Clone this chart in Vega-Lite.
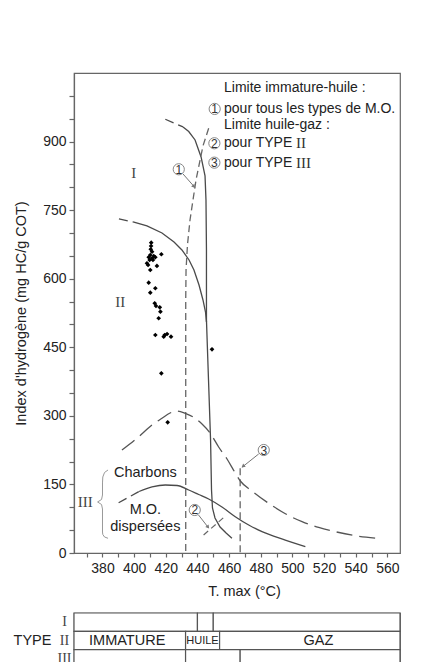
{
  "$schema": "https://vega.github.io/schema/vega-lite/v6.json",
  "background": "white",
  "padding": {"left": 12, "top": 72, "right": 0, "bottom": 0},
  "bounds": "flush",
  "spacing": 60,
  "config": {
    "font": "Liberation Sans",
    "view": {"stroke": "#666", "strokeWidth": 1.2},
    "axis": {
      "domainColor": "#666", "tickColor": "#666", "labelColor": "#222", "titleColor": "#222",
      "labelFont": "Liberation Sans", "titleFont": "Liberation Sans", "titleFontWeight": "normal",
      "labelFontSize": 14, "titleFontSize": 14.5, "grid": false, "domainWidth": 1.2, "tickWidth": 1.2
    }
  },
  "vconcat": [
    {
      "width": 326,
      "height": 480,
      "encoding": {
        "x": {
          "field": "t", "type": "quantitative",
          "scale": {"domain": [362, 568], "nice": false, "zero": false},
          "axis": {
            "title": "T. max (°C)", "values": [370, 380, 390, 400, 410, 420, 430, 440, 450, 460, 470, 480, 490, 500, 510, 520, 530, 540, 550, 560],
            "labelExpr": "datum.value % 20 === 0 ? datum.label : ''",
            "tickSize": 4, "labelPadding": 4, "titlePadding": 9, "titleX": 170, "labelFlush": false
          }
        },
        "y": {
          "field": "hi", "type": "quantitative",
          "scale": {"domain": [0, 1050], "nice": false},
          "axis": {
            "title": "Index d'hydrogène (mg HC/g COT)",
            "values": [0, 50, 100, 150, 200, 250, 300, 350, 400, 450, 500, 550, 600, 650, 700, 750, 800, 850, 900, 950, 1000],
            "labelExpr": "datum.value % 150 === 0 ? datum.label : ''",
            "tickSize": 5, "labelPadding": 3, "titlePadding": 14, "labelFlush": false
          }
        }
      },
      "layer": [
        {
          "data": {"values": [{"t": 419.7, "hi": 948.8}, {"t": 430.9, "hi": 932}]},
          "mark": {"type": "line", "color": "#4a4a4a", "strokeWidth": 1.3, "strokeDash": [9, 5]},
          "encoding": {"order": {"value": null}}
        },
        {
          "data": {"values": [
            {"t": 430.9, "hi": 932}, {"t": 434.5, "hi": 922}, {"t": 438.5, "hi": 903.5}, {"t": 442.3, "hi": 866.3},
            {"t": 444.8, "hi": 824.8}, {"t": 445.4, "hi": 772.3}, {"t": 445.7, "hi": 662.9}, {"t": 445.7, "hi": 509.7},
            {"t": 447, "hi": 378.5}, {"t": 448.3, "hi": 247.2}, {"t": 448.9, "hi": 137.8}, {"t": 449.5, "hi": 98.4},
            {"t": 451.1, "hi": 76.6}, {"t": 454.3, "hi": 56.9}, {"t": 458.1, "hi": 43.8}, {"t": 461.8, "hi": 32.2}
          ]},
          "mark": {"type": "line", "color": "#4a4a4a", "strokeWidth": 1.3},
          "encoding": {"order": {"value": null}}
        },
        {
          "data": {"values": [{"t": 390.4, "hi": 730.7}, {"t": 399.3, "hi": 724.1}]},
          "mark": {"type": "line", "color": "#4a4a4a", "strokeWidth": 1.3, "strokeDash": [9, 5]},
          "encoding": {"order": {"value": null}}
        },
        {
          "data": {"values": [
            {"t": 399.3, "hi": 724.1}, {"t": 408.1, "hi": 715.4}, {"t": 417.6, "hi": 700.1}, {"t": 425.2, "hi": 680.4},
            {"t": 430.2, "hi": 662.9}, {"t": 434.7, "hi": 641}, {"t": 437.8, "hi": 619.1}, {"t": 441, "hi": 586.3},
            {"t": 443.5, "hi": 553.5}, {"t": 445.1, "hi": 527.2}, {"t": 445.7, "hi": 505.4}
          ]},
          "mark": {"type": "line", "color": "#4a4a4a", "strokeWidth": 1.3},
          "encoding": {"order": {"value": null}}
        },
        {
          "data": {"values": [
            {"t": 447.1, "hi": 929.1}, {"t": 443.5, "hi": 890.4}, {"t": 441.3, "hi": 853.2}, {"t": 439.1, "hi": 816},
            {"t": 437.2, "hi": 772.3}, {"t": 435.3, "hi": 728.5}, {"t": 433.7, "hi": 673.8}, {"t": 432.8, "hi": 619.1},
            {"t": 432.6, "hi": 553.5}, {"t": 432.6, "hi": 0}
          ]},
          "mark": {"type": "line", "color": "#666", "strokeWidth": 1.3, "strokeDash": [7, 4]},
          "encoding": {"order": {"value": null}}
        },
        {
          "data": {"values": [{"t": 467, "hi": 185.3}, {"t": 467, "hi": 0}]},
          "mark": {"type": "line", "color": "#666", "strokeWidth": 1.3, "strokeDash": [7, 4]},
          "encoding": {"order": {"value": null}}
        },
        {
          "data": {"values": [{"t": 443.9, "hi": 39.4}, {"t": 457.9, "hi": 81.6}]},
          "mark": {"type": "line", "color": "#666", "strokeWidth": 1.2, "strokeDash": [6, 4]},
          "encoding": {"order": {"value": null}}
        },
        {
          "data": {"values": [
            {"t": 392.3, "hi": 225.3}, {"t": 402.9, "hi": 254.4}, {"t": 411.3, "hi": 280}, {"t": 417.6, "hi": 294.7},
            {"t": 422.7, "hi": 306.3}, {"t": 427.1, "hi": 310.6}, {"t": 432.3, "hi": 305.6}, {"t": 437.8, "hi": 296.4},
            {"t": 442.9, "hi": 282.2}, {"t": 448, "hi": 262.5}, {"t": 453.4, "hi": 231.9}, {"t": 458.7, "hi": 205.6},
            {"t": 463.9, "hi": 175}, {"t": 467.1, "hi": 157.5}, {"t": 474.5, "hi": 135.6}, {"t": 485, "hi": 108.7},
            {"t": 495.3, "hi": 86.4}, {"t": 506.1, "hi": 68.5}, {"t": 516.6, "hi": 55.8}, {"t": 527.1, "hi": 46.6},
            {"t": 540.8, "hi": 37.2}, {"t": 553.5, "hi": 32.2}
          ]},
          "mark": {"type": "line", "color": "#555", "strokeWidth": 1.3, "strokeDash": [16, 7], "interpolate": "monotone"},
          "encoding": {"order": {"value": null}}
        },
        {
          "data": {"values": [{"t": 390.2, "hi": 110}, {"t": 403.1, "hi": 134.5}]},
          "mark": {"type": "line", "color": "#4a4a4a", "strokeWidth": 1.3, "strokeDash": [9, 5]},
          "encoding": {"order": {"value": null}}
        },
        {
          "data": {"values": [
            {"t": 403.1, "hi": 134.5}, {"t": 411.3, "hi": 144.4}, {"t": 419.7, "hi": 148.8}, {"t": 427.1, "hi": 147.7},
            {"t": 434.5, "hi": 137.8}, {"t": 440.8, "hi": 128}, {"t": 447.1, "hi": 118.1}, {"t": 455.5, "hi": 100.6},
            {"t": 463.9, "hi": 79.4}, {"t": 472.4, "hi": 61.3}, {"t": 480.8, "hi": 46.6}, {"t": 495.5, "hi": 28.4},
            {"t": 508.2, "hi": 13.8}
          ]},
          "mark": {"type": "line", "color": "#4a4a4a", "strokeWidth": 1.3, "interpolate": "monotone"},
          "encoding": {"order": {"value": null}}
        },
        {
          "data": {"values": [
            {"t": 383.5, "hi": 181.6}, {"t": 381.3, "hi": 176.1}, {"t": 380.2, "hi": 166.3}, {"t": 380, "hi": 153.2},
            {"t": 380, "hi": 126.9}, {"t": 379.4, "hi": 117}, {"t": 376.9, "hi": 111.6}, {"t": 379.4, "hi": 106.1},
            {"t": 380, "hi": 96.3}, {"t": 380, "hi": 45.9}, {"t": 380.2, "hi": 40.5}, {"t": 381.3, "hi": 35},
            {"t": 383.5, "hi": 32.2}
          ]},
          "mark": {"type": "line", "color": "#999", "strokeWidth": 1},
          "encoding": {"order": {"value": null}}
        },
        {
          "data": {"values": [
            {"t": 410.8, "hi": 678.8}, {"t": 410.7, "hi": 671.6}, {"t": 410.5, "hi": 664.4}, {"t": 411.3, "hi": 659.2},
            {"t": 410.2, "hi": 651.9}, {"t": 412.4, "hi": 649.7}, {"t": 409.2, "hi": 646.9}, {"t": 411.3, "hi": 644.7},
            {"t": 413.4, "hi": 646.9}, {"t": 417.2, "hi": 653.5}, {"t": 409.8, "hi": 641}, {"t": 411.9, "hi": 641},
            {"t": 408.1, "hi": 633.8}, {"t": 408.8, "hi": 630}, {"t": 414.4, "hi": 627.9}, {"t": 410.2, "hi": 619.1},
            {"t": 409.2, "hi": 591.3}, {"t": 413.4, "hi": 579.1}, {"t": 410.2, "hi": 569.5}, {"t": 413, "hi": 546.3},
            {"t": 413.8, "hi": 540.4}, {"t": 416.2, "hi": 537.5}, {"t": 416.6, "hi": 527.9}, {"t": 415.5, "hi": 513.5},
            {"t": 413.4, "hi": 476.9}, {"t": 419.3, "hi": 476.9}, {"t": 420.8, "hi": 479.1}, {"t": 418.7, "hi": 473.2},
            {"t": 423.3, "hi": 473.2}, {"t": 417.2, "hi": 393.1}, {"t": 449.2, "hi": 445.6}, {"t": 421.2, "hi": 285.9}
          ]},
          "mark": {"type": "point", "shape": "diamond", "filled": true, "color": "#000", "size": 22, "opacity": 1}
        },
        {
          "data": {"values": [
            {"t": 430.9, "hi": 829.1, "t2": 438.3, "hi2": 800},
            {"t": 440.7, "hi": 83.1, "t2": 447.1, "hi2": 54.7},
            {"t": 478.7, "hi": 216.6, "t2": 468.2, "hi2": 187.7}
          ]},
          "mark": {"type": "rule", "color": "#777", "strokeWidth": 1},
          "encoding": {"x2": {"field": "t2"}, "y2": {"field": "hi2"}}
        },
        {
          "data": {"values": [{"t": 437.8, "hi": 801.5}]},
          "mark": {"type": "point", "shape": "triangle-up", "filled": true, "color": "#777", "size": 18, "angle": 139, "opacity": 1}
        },
        {
          "data": {"values": [{"t": 446.7, "hi": 56.5}]},
          "mark": {"type": "point", "shape": "triangle-up", "filled": true, "color": "#777", "size": 18, "angle": 142, "opacity": 1}
        },
        {
          "data": {"values": [{"t": 468.8, "hi": 189.5}]},
          "mark": {"type": "point", "shape": "triangle-up", "filled": true, "color": "#777", "size": 18, "angle": 231, "opacity": 1}
        },
        {
          "data": {"values": [
            {"t": 450.9, "hi": 971.4, "n": "1"}, {"t": 450.7, "hi": 896.3, "n": "2"}, {"t": 450.7, "hi": 853.9, "n": "3"},
            {"t": 428.2, "hi": 839.4, "n": "1"}, {"t": 438.3, "hi": 94.1, "n": "2"}, {"t": 481.9, "hi": 225.3, "n": "3"}
          ]},
          "layer": [
            {"mark": {"type": "point", "shape": "circle", "filled": true, "fill": "white", "stroke": "#888", "strokeWidth": 1, "size": 125, "opacity": 1}},
            {"mark": {"type": "text", "fontSize": 12, "color": "#333", "baseline": "middle", "align": "center", "dy": 0.5}, "encoding": {"text": {"field": "n"}}}
          ]
        },
        {
          "data": {"values": [
            {"t": 399.7, "hi": 832, "label": "I"}, {"t": 391.3, "hi": 549.8, "label": "II"}, {"t": 369.1, "hi": 112.2, "label": "III"}
          ]},
          "mark": {"type": "text", "font": "Liberation Serif", "fontSize": 15, "color": "#444", "baseline": "middle", "align": "center"},
          "encoding": {"text": {"field": "label"}}
        },
        {
          "data": {"values": [
            {"t": 502.3, "hi": 896.3, "label": "II"}, {"t": 502.3, "hi": 853.9, "label": "III"}
          ]},
          "mark": {"type": "text", "font": "Liberation Serif", "fontSize": 15, "color": "#333", "baseline": "middle", "align": "left"},
          "encoding": {"text": {"field": "label"}}
        },
        {
          "data": {"values": [
            {"t": 407.1, "hi": 174.5, "label": "Charbons"}, {"t": 407.1, "hi": 94, "label": "M.O."}, {"t": 407.1, "hi": 56.2, "label": "dispersées"}
          ]},
          "mark": {"type": "text", "fontSize": 14.5, "color": "#222", "baseline": "middle", "align": "center"},
          "encoding": {"text": {"field": "label"}}
        },
        {
          "data": {"values": [
            {"t": 456.8, "hi": 1016.6, "label": "Limite immature-huile :"},
            {"t": 456.8, "hi": 971.4, "label": "pour tous les types de M.O."},
            {"t": 456.8, "hi": 936.4, "label": "Limite huile-gaz :"},
            {"t": 456.8, "hi": 896.3, "label": "pour TYPE"},
            {"t": 456.8, "hi": 853.9, "label": "pour TYPE"}
          ]},
          "mark": {"type": "text", "fontSize": 14, "color": "#222", "baseline": "middle", "align": "left"},
          "encoding": {"text": {"field": "label"}}
        }
      ]
    },
    {
      "width": 326,
      "height": 55,
      "layer": [
        {
          "data": {"values": [
            {"row": "I", "t": 362, "t2": 440}, {"row": "I", "t": 440, "t2": 450}, {"row": "I", "t": 450, "t2": 568},
            {"row": "II", "t": 362, "t2": 432.5}, {"row": "II", "t": 432.5, "t2": 454}, {"row": "II", "t": 454, "t2": 568},
            {"row": "III", "t": 362, "t2": 432.5}, {"row": "III", "t": 432.5, "t2": 467}, {"row": "III", "t": 467, "t2": 568}
          ]},
          "mark": {"type": "rect", "fill": "white", "stroke": "#555", "strokeWidth": 1.2},
          "encoding": {
            "x": {"field": "t", "type": "quantitative", "scale": {"domain": [362, 568], "nice": false, "zero": false}, "axis": null},
            "x2": {"field": "t2"},
            "y": {
              "field": "row", "type": "nominal",
              "scale": {"domain": ["I", "II", "III"], "paddingInner": 0, "paddingOuter": 0},
              "axis": {
                "title": "TYPE", "titleAngle": 0, "titleX": -42, "titleY": 27.5, "titleAlign": "center", "titleBaseline": "middle",
                "titleFontSize": 14.5, "labelFont": "Liberation Serif", "labelFontSize": 14, "labelAlign": "center",
                "labelPadding": 10, "ticks": false, "domain": false, "labelColor": "#444"
              }
            }
          }
        },
        {
          "data": {"values": [
            {"row": "II", "t": 395.6, "label": "IMMATURE"}, {"row": "II", "t": 516.4, "label": "GAZ"}
          ]},
          "mark": {"type": "text", "fontSize": 14.5, "color": "#222", "baseline": "middle", "align": "center"},
          "encoding": {
            "x": {"field": "t", "type": "quantitative"},
            "y": {"field": "row", "type": "nominal"},
            "text": {"field": "label"}
          }
        },
        {
          "data": {"values": [{"row": "II", "t": 443.2, "label": "HUILE"}]},
          "mark": {"type": "text", "font": "Liberation Sans", "fontSize": 11, "color": "#222", "baseline": "middle", "align": "center"},
          "encoding": {
            "x": {"field": "t", "type": "quantitative"},
            "y": {"field": "row", "type": "nominal"},
            "text": {"field": "label"}
          }
        }
      ]
    }
  ]
}
